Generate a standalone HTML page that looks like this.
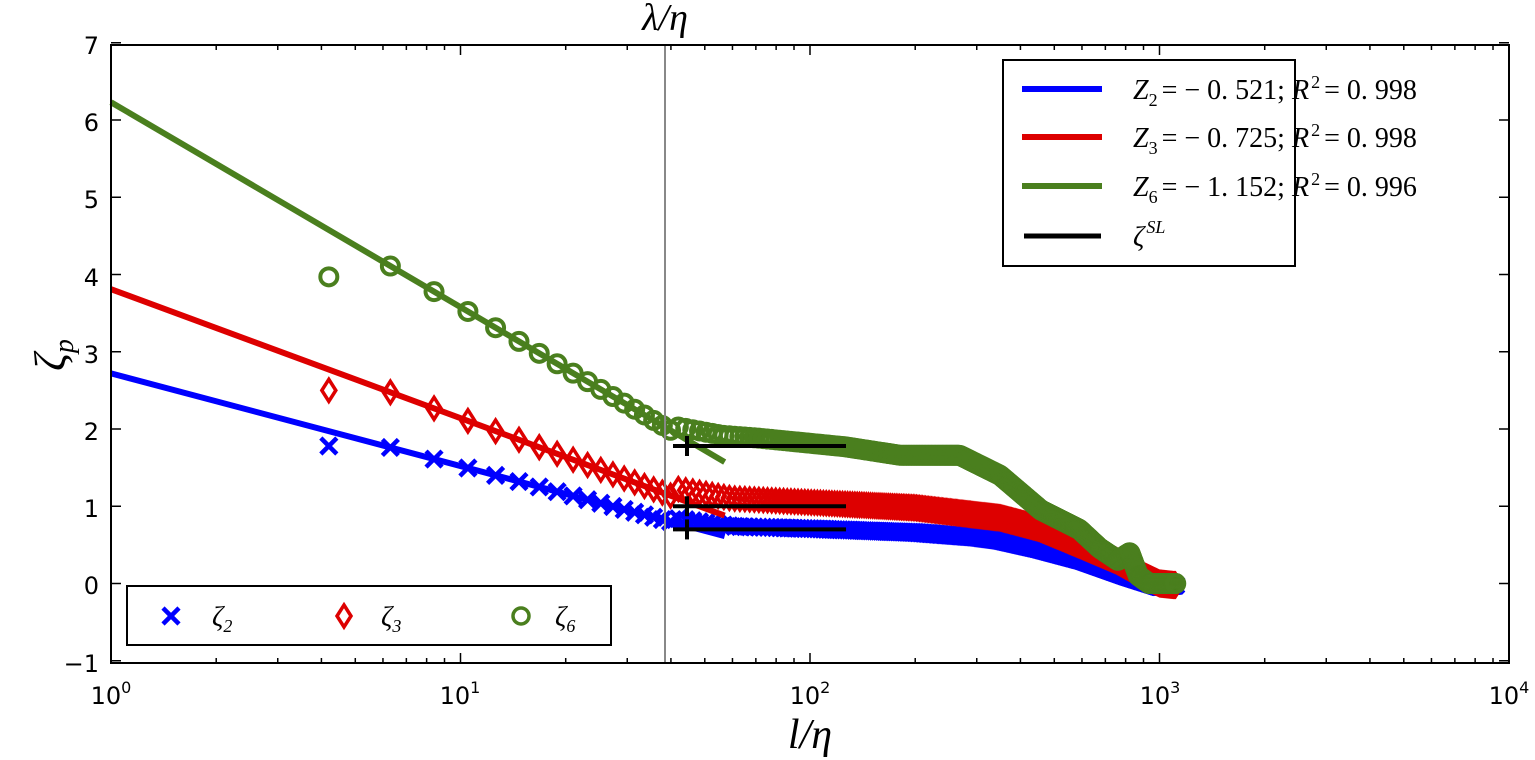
<!DOCTYPE html>
<html><head><meta charset="utf-8"><style>
html,body{margin:0;padding:0;background:#fff}
svg{display:block}
text{font-family:"Liberation Serif",serif}
.t text{font-family:"DejaVu Sans","Liberation Sans",sans-serif;font-size:24px}
</style></head><body>
<svg id="s" width="1535" height="760" xmlns="http://www.w3.org/2000/svg">
<rect width="1535" height="760" fill="#fff"/>
<g id="plot"></g>
<line x1="665" y1="45" x2="665" y2="663" stroke="#888" stroke-width="2"/>
<rect x="111" y="45" width="1398" height="618" fill="none" stroke="#000" stroke-width="2"/>
<g id="ticks" stroke="#000" stroke-width="1.5"></g>
<g class="t" text-anchor="end">
<text x="99" y="54">7</text><text x="99" y="131">6</text><text x="99" y="208">5</text><text x="99" y="286">4</text>
<text x="99" y="363">3</text><text x="99" y="440">2</text><text x="99" y="517">1</text><text x="99" y="594">0</text><text x="99" y="672">−1</text>
</g>
<g class="t" text-anchor="middle">
<text x="111" y="704">10<tspan font-size="16" dy="-11">0</tspan></text>
<text x="460" y="704">10<tspan font-size="16" dy="-11">1</tspan></text>
<text x="810" y="704">10<tspan font-size="16" dy="-11">2</tspan></text>
<text x="1160" y="704">10<tspan font-size="16" dy="-11">3</tspan></text>
<text x="1509" y="704">10<tspan font-size="16" dy="-11">4</tspan></text>
</g>
<text x="810" y="748" font-size="42" font-style="italic" text-anchor="middle">l/η</text>
<text x="665" y="30" font-size="38" font-style="italic" text-anchor="middle">λ/η</text>
<text x="52" y="368" font-size="44" font-style="italic" text-anchor="middle" transform="rotate(-90 52 355)">ζ<tspan font-size="28" dy="8">p</tspan></text>
<!-- legend top right -->
<rect x="1003" y="60" width="292" height="206" fill="#fff" stroke="#000" stroke-width="2"/>
<line x1="1022" y1="89" x2="1102" y2="89" stroke="#0000ff" stroke-width="6"/>
<line x1="1022" y1="137" x2="1102" y2="137" stroke="#dd0000" stroke-width="6"/>
<line x1="1022" y1="186" x2="1102" y2="186" stroke="#4a7f1e" stroke-width="6"/>
<line x1="1024" y1="236" x2="1101" y2="236" stroke="#000" stroke-width="5"/>
<g font-size="28">
<text x="1133" y="99"><tspan font-style="italic">Z</tspan><tspan font-size="18" dy="7">2</tspan><tspan dy="-7" dx="4">= − 0. 521; </tspan><tspan font-style="italic">R</tspan><tspan font-size="18" dy="-11" dx="2">2</tspan><tspan dy="11" dx="4">= 0. 998</tspan></text>
<text x="1133" y="147"><tspan font-style="italic">Z</tspan><tspan font-size="18" dy="7">3</tspan><tspan dy="-7" dx="4">= − 0. 725; </tspan><tspan font-style="italic">R</tspan><tspan font-size="18" dy="-11" dx="2">2</tspan><tspan dy="11" dx="4">= 0. 998</tspan></text>
<text x="1133" y="196"><tspan font-style="italic">Z</tspan><tspan font-size="18" dy="7">6</tspan><tspan dy="-7" dx="4">= − 1. 152; </tspan><tspan font-style="italic">R</tspan><tspan font-size="18" dy="-11" dx="2">2</tspan><tspan dy="11" dx="4">= 0. 996</tspan></text>
<text x="1133" y="246" font-style="italic">ζ<tspan font-size="18" dy="-13" dx="2">SL</tspan></text>
</g>
<!-- legend bottom left -->
<rect x="127" y="586" width="484" height="59" fill="#fff" stroke="#000" stroke-width="2"/>
<g stroke="#0000ff" stroke-width="4.5"><line x1="163" y1="608" x2="179" y2="624"/><line x1="179" y1="608" x2="163" y2="624"/></g>
<polygon points="344,605 351,616 344,627 337,616" fill="none" stroke="#dd0000" stroke-width="3.5"/>
<circle cx="521" cy="616" r="8" fill="none" stroke="#4a7f1e" stroke-width="3.5"/>
<g font-size="28" font-style="italic">
<text x="212" y="626">ζ<tspan font-size="18" dy="6">2</tspan></text>
<text x="381" y="626">ζ<tspan font-size="18" dy="6">3</tspan></text>
<text x="555" y="626">ζ<tspan font-size="18" dy="6">6</tspan></text>
</g>
</svg>
<script>
(function(){
var NS="http://www.w3.org/2000/svg";
var X0=111,DEC=349.5,Y0=583.5,U=77.25;
function px(l){return X0+DEC*Math.log10(l);}
function py(v){return Y0-v*U;}
function el(n,a,p){var e=document.createElementNS(NS,n);for(var k in a)e.setAttribute(k,a[k]);p.appendChild(e);return e;}
var g=document.getElementById("plot"),tk=document.getElementById("ticks");
for(var d=0;d<4;d++)for(var m=1;m<10;m++){var x=px(Math.pow(10,d)*m);var L=m==1?10:5;
 if(m==1&&d==0)continue;
 el("line",{x1:x,y1:663,x2:x,y2:663-L},tk);el("line",{x1:x,y1:45,x2:x,y2:45+L},tk);}
for(var v=-1;v<=7;v++){var y=py(v);el("line",{x1:111,y1:y,x2:121,y2:y},tk);el("line",{x1:1509,y1:y,x2:1499,y2:y},tk);}
function interp(pts,l){var t=Math.log10(l);for(var i=0;i<pts.length-1;i++){var a=Math.log10(pts[i][0]),b=Math.log10(pts[i+1][0]);if(t<=b){var f=(t-a)/(b-a);return pts[i][1]+f*(pts[i+1][1]-pts[i][1]);}}return pts[pts.length-1][1];}
var S=[
 {c:"#0000ff",a:2.72,z:0.521,first:1.78,tail:[[45,0.82],[60,0.74],[100,0.71],[200,0.66],[300,0.6],[350,0.56],[450,0.45],[600,0.3],[800,0.1],[1000,-0.04],[1120,-0.02]],m:"x"},
 {c:"#dd0000",a:3.81,z:0.725,first:2.5,tail:[[45,1.2],[60,1.1],[100,1.05],[200,0.98],[350,0.85],[450,0.72],[590,0.5],[750,0.3],[900,0.1],[1000,0.0],[1100,-0.02]],m:"d"},
 {c:"#4a7f1e",a:6.23,z:1.152,first:3.97,tail:[[45,2.0],[56,1.92],[72,1.88],[126,1.77],[181,1.66],[268,1.66],[350,1.4],[458,0.95],[590,0.7],[673,0.46],[760,0.3],[822,0.4],[870,0.1],[935,0.0],[1060,0.0]],m:"o"}
];
S.forEach(function(s){
 var sg=el("g",{},g);
 for(var k=2;k<=530;k++){var l=2.1*k;var v;
  if(k==2)v=s.first;else{var fit=s.a-s.z*Math.log(l);
   if(l<40)v=fit;else v=interp(s.tail,l);}
  var x=px(l),y=py(v);
  if(s.m=="x"){el("path",{d:"M"+(x-8)+","+(y-8)+"L"+(x+8)+","+(y+8)+"M"+(x+8)+","+(y-8)+"L"+(x-8)+","+(y+8),stroke:s.c,"stroke-width":4.5,fill:"none"},sg);}
  else if(s.m=="d"){el("polygon",{points:x+","+(y-11)+" "+(x+7)+","+y+" "+x+","+(y+11)+" "+(x-7)+","+y,fill:"none",stroke:s.c,"stroke-width":3.5},sg);}
  else el("circle",{cx:x,cy:y,r:8.5,fill:"none",stroke:s.c,"stroke-width":4},sg);
 }
});
S.forEach(function(s){var l2=57;el("line",{x1:px(1),y1:py(s.a),x2:px(l2),y2:py(s.a-s.z*Math.log(l2)),stroke:s.c,"stroke-width":6},g);});
[1.78,1.0,0.7].forEach(function(v){var y=py(v);
 el("line",{x1:673,y1:y,x2:846,y2:y,stroke:"#000","stroke-width":4},g);
 el("line",{x1:687,y1:y-10,x2:687,y2:y+10,stroke:"#000","stroke-width":4},g);});
})();
</script>
</body></html>
